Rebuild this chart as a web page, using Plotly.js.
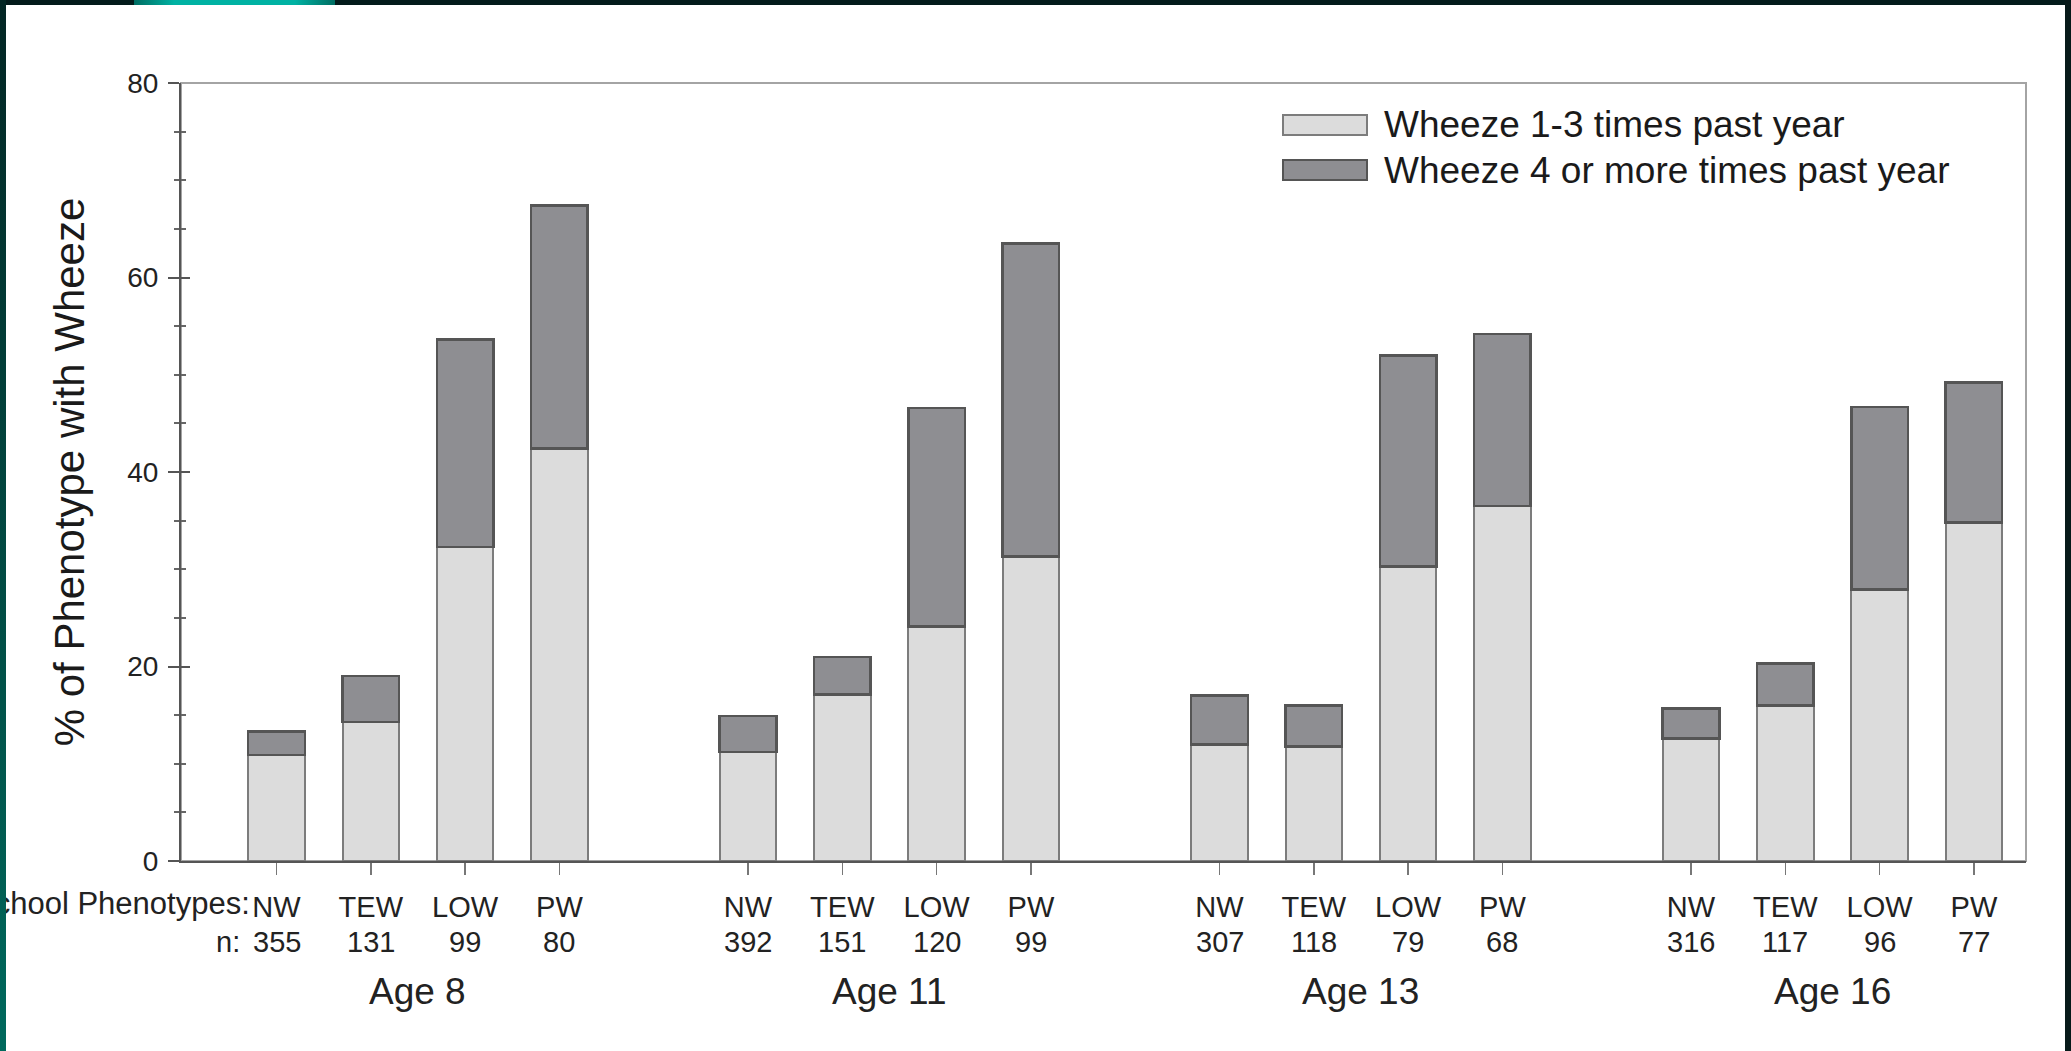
<!DOCTYPE html>
<html>
<head>
<meta charset="utf-8">
<script src="https://cdn.plot.ly/plotly-3.0.1.min.js"></script>
<style>
  html, body { margin: 0; padding: 0; background: #ffffff; overflow: hidden; }
  #chart { position: absolute; left: 0; top: 0; width: 2071px; height: 1051px; }
  .edge { position: absolute; pointer-events: none; }
  #edgeTop { left: 0; top: 0; width: 2071px; height: 5px; background: #031b1b; }
  #edgeLeft { left: 0; top: 0; width: 6px; height: 1051px; background: linear-gradient(#032624, #00695d); }
  #edgeRight { left: 2065px; top: 0; width: 6px; height: 1051px; background: #071a1a; }
  #tab { left: 134px; top: 0; width: 201px; height: 5px;
         background: linear-gradient(90deg, #006d62 0%, #00b2a3 20%, #00b2a3 80%, #006d62 100%); }
</style>
</head>
<body>
<div id="chart"></div>
<div class="edge" id="edgeTop"></div>
<div class="edge" id="tab"></div>
<div class="edge" id="edgeLeft"></div>
<div class="edge" id="edgeRight"></div>
<script>
// Survey waves and childhood wheeze phenotypes
const ages = ['Age 8', 'Age 11', 'Age 13', 'Age 16'];
const phenotypes = ['NW', 'TEW', 'LOW', 'PW'];

// Number of children per phenotype, wave by wave (NW, TEW, LOW, PW)
const nAge8  = [355, 131, 99, 80];
const nAge11 = [392, 151, 120, 99];
const nAge13 = [307, 118, 79, 68];
const nAge16 = [316, 117, 96, 77];

// % wheezing 1-3 times in the past year
const mildAge8  = [10.9, 14.3, 32.3, 42.4];
const mildAge11 = [11.2, 17.1, 24.1, 31.3];
const mildAge13 = [12.0, 11.8, 30.3, 36.5];
const mildAge16 = [12.6, 16.0, 27.9, 34.8];

// % wheezing 4 or more times in the past year (stacked on top)
const freqAge8  = [2.4, 4.7, 21.3, 25.0];
const freqAge11 = [3.7, 3.9, 22.5, 32.2];
const freqAge13 = [5.0, 4.2, 21.7, 17.7];
const freqAge16 = [3.1, 4.3, 18.8, 14.4];

const seriesNames = ['Wheeze 1-3 times past year', 'Wheeze 4 or more times past year'];
const yTicks = [0, 20, 40, 60, 80];

// ---- assemble the grouped positions (4 bars per wave, one empty slot between waves)
const nByAge = [nAge8, nAge11, nAge13, nAge16];
const mildByAge = [mildAge8, mildAge11, mildAge13, mildAge16];
const freqByAge = [freqAge8, freqAge11, freqAge13, freqAge16];

const xs = [], labels = [], mild = [], freq = [], counts = [];
ages.forEach((age, g) => {
  phenotypes.forEach((p, i) => {
    xs.push(g * 5 + i);
    labels.push(p);
    mild.push(mildByAge[g][i]);
    freq.push(freqByAge[g][i]);
    counts.push(nByAge[g][i]);
  });
});

// plot-area box in page pixels, used to place the hand-drawn legend and side labels
const BOX = { l: 181, r: 2026, t: 83, b: 861 };
const W = 2071, H = 1051;
const px = v => (v - BOX.l) / (BOX.r - BOX.l);
const py = v => (BOX.b - v) / (BOX.b - BOX.t);

const FONT = 'Liberation Sans, Arial, Helvetica, sans-serif';
const LIGHT = '#dcdcdc', LIGHT_EDGE = '#7c7c7c';
const DARK = '#8e8e92', DARK_EDGE = '#555555';

const traces = [
  {
    type: 'bar', x: xs, y: mild, name: seriesNames[0], width: 0.6,
    marker: { color: LIGHT, line: { color: LIGHT_EDGE, width: 2 } },
    showlegend: false, hoverinfo: 'y'
  },
  {
    type: 'bar', x: xs, y: freq, name: seriesNames[1], width: 0.6,
    marker: { color: DARK, line: { color: DARK_EDGE, width: 2.5 } },
    showlegend: false, hoverinfo: 'y'
  },
  // carrier for the inward half of the y ticks
  { type: 'scatter', x: [0], y: [null], yaxis: 'y2', showlegend: false, hoverinfo: 'skip' }
];

const annotations = [];
// sample sizes under each phenotype label
xs.forEach((x, k) => {
  annotations.push({
    x: x, xref: 'x', y: py(942), yref: 'paper', text: String(counts[k]),
    showarrow: false, xanchor: 'center', yanchor: 'middle',
    font: { family: FONT, size: 29, color: '#222' }
  });
});
// wave labels
ages.forEach((age, g) => {
  annotations.push({
    x: g * 5 + 1.5, xref: 'x', y: py(991), yref: 'paper', text: age,
    showarrow: false, xanchor: 'center', yanchor: 'middle',
    font: { family: FONT, size: 37, color: '#222' }
  });
});
// row captions on the left
annotations.push({
  x: px(252), xref: 'paper', y: py(903), yref: 'paper', text: 'School Phenotypes:',
  showarrow: false, xanchor: 'right', yanchor: 'middle',
  font: { family: FONT, size: 31, color: '#222' }
});
annotations.push({
  x: px(242), xref: 'paper', y: py(942), yref: 'paper', text: 'n:',
  showarrow: false, xanchor: 'right', yanchor: 'middle',
  font: { family: FONT, size: 29, color: '#222' }
});

// legend (wide swatches)
const legendRows = [
  { name: seriesNames[0], fill: LIGHT, edge: LIGHT_EDGE, yc: 125 },
  { name: seriesNames[1], fill: DARK, edge: DARK_EDGE, yc: 170 }
];
const shapes = [
  // light frame around the plotting area
  { type: 'rect', xref: 'paper', yref: 'paper', x0: 0, x1: 1, y0: 0, y1: 1,
    line: { color: '#a4a4a4', width: 2 }, layer: 'below' }
];
legendRows.forEach(r => {
  shapes.push({
    type: 'rect', xref: 'paper', yref: 'paper',
    x0: px(1283), x1: px(1367), y0: py(r.yc + 10), y1: py(r.yc - 10),
    fillcolor: r.fill, line: { color: r.edge, width: 2 }
  });
  annotations.push({
    x: px(1382), xref: 'paper', y: py(r.yc), yref: 'paper', text: r.name,
    showarrow: false, xanchor: 'left', yanchor: 'middle',
    font: { family: FONT, size: 37, color: '#1a1a1a' }
  });
});

const layout = {
  width: W, height: H,
  paper_bgcolor: '#ffffff', plot_bgcolor: '#ffffff',
  margin: { l: BOX.l, r: W - BOX.r, t: BOX.t, b: H - BOX.b, pad: 0 },
  barmode: 'stack',
  showlegend: false,
  font: { family: FONT, color: '#222' },
  xaxis: {
    range: [(BOX.l - 276.5) / 94.3, (BOX.r - 276.5) / 94.3],
    tickmode: 'array', tickvals: xs, ticktext: labels,
    ticks: 'outside', ticklen: 12, tickwidth: 1.5, tickcolor: '#777',
    ticklabelstandoff: 7,
    tickfont: { family: FONT, size: 29, color: '#222' },
    showline: true, linecolor: '#555', linewidth: 2,
    showgrid: false, zeroline: false, fixedrange: true
  },
  yaxis: {
    range: [0, 80], tickmode: 'array', tickvals: yTicks,
    ticks: 'outside', ticklen: 11, tickwidth: 2, tickcolor: '#555',
    minor: { tickmode: 'linear', tick0: 0, dtick: 5, ticks: 'outside', ticklen: 5, tickwidth: 2, tickcolor: '#666', showgrid: false },
    tickfont: { family: FONT, size: 28, color: '#222' },
    ticklabelstandoff: 4,
    showline: true, linecolor: '#555', linewidth: 2,
    showgrid: false, zeroline: false, fixedrange: true,
    title: { text: '% of Phenotype with Wheeze', standoff: 30,
             font: { family: FONT, size: 42, color: '#1a1a1a' } }
  },
  yaxis2: {
    overlaying: 'y', side: 'left', range: [0, 80],
    tickmode: 'array', tickvals: yTicks,
    ticks: 'inside', ticklen: 9, tickwidth: 2, tickcolor: '#555',
    minor: { tickmode: 'linear', tick0: 0, dtick: 5, ticks: 'inside', ticklen: 5, tickwidth: 2, tickcolor: '#666', showgrid: false },
    showticklabels: false, showline: false, showgrid: false, zeroline: false, fixedrange: true
  },
  shapes: shapes,
  annotations: annotations
};

Plotly.newPlot('chart', traces, layout, { displayModeBar: false, staticPlot: true });
</script>
</body>
</html>
